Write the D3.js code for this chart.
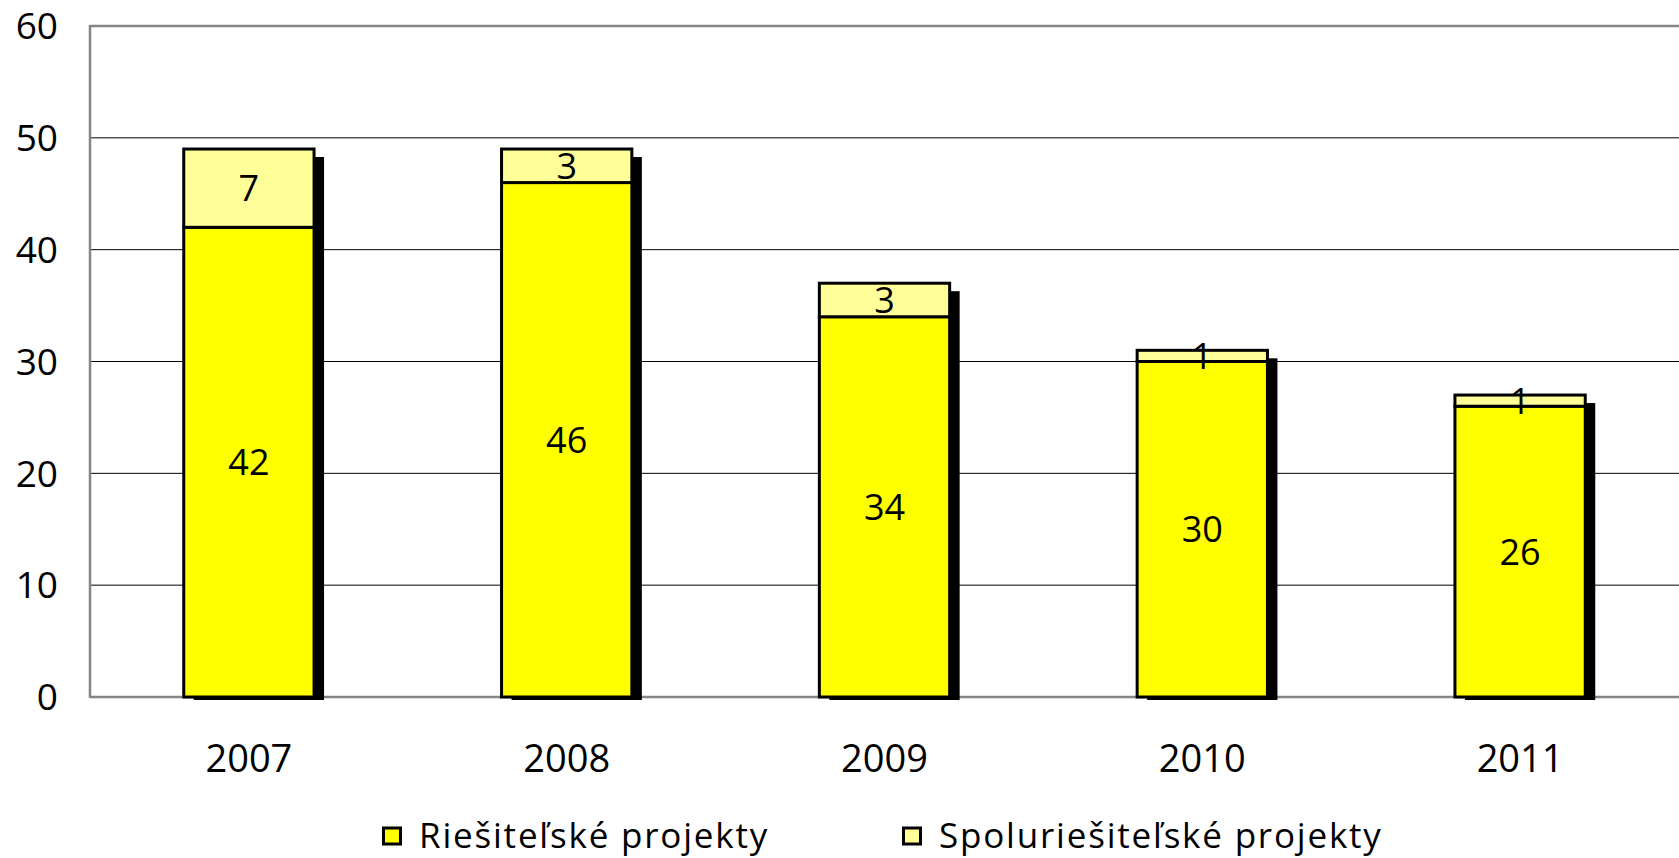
<!DOCTYPE html>
<html>
<head>
<meta charset="utf-8">
<script src="https://cdn.jsdelivr.net/npm/d3@7/dist/d3.min.js"></script>
<style>
  html, body { margin: 0; padding: 0; background: #fff; }
  svg { display: block; font-family: "Open Sans", sans-serif; }
</style>
</head>
<body>
<svg id="chart" width="1679" height="858"></svg>
<script>
const years = ["2007", "2008", "2009", "2010", "2011"];
const riesitelske = [42, 46, 34, 30, 26];
const spoluriesitelske = [7, 3, 3, 1, 1];
const seriesNames = ["Riešiteľské projekty", "Spoluriešiteľské projekty"];
const seriesColors = ["#FFFF00", "#FFFF99"];
const yTicks = [0, 10, 20, 30, 40, 50, 60];

const W = 1679, H = 858;
const margin = { top: 26, right: 0, bottom: 161, left: 90 };
const svg = d3.select("#chart");

const x = d3.scaleBand().domain(years).range([margin.left, W - margin.right]).paddingInner(0.59).paddingOuter(0.295);
const y = d3.scaleLinear().domain([0, 60]).range([H - margin.bottom, margin.top]);

// gridlines
svg.append("g").selectAll("line").data(yTicks.filter(t => t > 0 && t < 60)).join("line")
  .attr("x1", margin.left).attr("x2", W).attr("y1", d => y(d)).attr("y2", d => y(d))
  .attr("stroke", "#000").attr("stroke-width", 1);

// frame: top, left, bottom in gray
svg.append("line").attr("x1", margin.left).attr("x2", W).attr("y1", y(60)).attr("y2", y(60))
  .attr("stroke", "#858585").attr("stroke-width", 2.5);
svg.append("line").attr("x1", margin.left).attr("x2", margin.left).attr("y1", y(60) - 1).attr("y2", y(0) + 1)
  .attr("stroke", "#858585").attr("stroke-width", 2.5);
svg.append("line").attr("x1", margin.left).attr("x2", W).attr("y1", y(0)).attr("y2", y(0))
  .attr("stroke", "#858585").attr("stroke-width", 2.5);

// y labels
svg.append("g").selectAll("text").data(yTicks).join("text")
  .attr("x", 58).attr("y", d => y(d)).attr("dy", "0.36em")
  .attr("text-anchor", "end").attr("font-size", 37).attr("fill", "#000")
  .text(d => d);

// x labels
svg.append("g").selectAll("text").data(years).join("text")
  .attr("x", d => x(d) + x.bandwidth() / 2).attr("y", 772)
  .attr("text-anchor", "middle").attr("font-size", 38).attr("fill", "#000")
  .text(d => d);

const data = years.map((yr, i) => ({ yr, a: riesitelske[i], b: spoluriesitelske[i] }));

// shadows
svg.append("g").selectAll("rect").data(data).join("rect")
  .attr("x", d => x(d.yr) + 10).attr("y", d => y(d.a + d.b) + 8)
  .attr("width", x.bandwidth()).attr("height", d => y(0) + 3 - (y(d.a + d.b) + 8))
  .attr("fill", "#000");

const bars = svg.append("g");
// bottom segments
bars.selectAll("rect.a").data(data).join("rect").attr("class", "a")
  .attr("x", d => x(d.yr)).attr("y", d => y(d.a))
  .attr("width", x.bandwidth()).attr("height", d => y(0) - y(d.a))
  .attr("fill", seriesColors[0]).attr("stroke", "#000").attr("stroke-width", 3);
// top segments
bars.selectAll("rect.b").data(data).join("rect").attr("class", "b")
  .attr("x", d => x(d.yr)).attr("y", d => y(d.a + d.b))
  .attr("width", x.bandwidth()).attr("height", d => y(d.a) - y(d.a + d.b))
  .attr("fill", seriesColors[1]).attr("stroke", "#000").attr("stroke-width", 3);

// data labels
const lbl = svg.append("g").attr("font-size", 36).attr("fill", "#000").attr("text-anchor", "middle");
lbl.selectAll("text.a").data(data).join("text").attr("class", "a")
  .attr("x", d => x(d.yr) + x.bandwidth() / 2).attr("y", d => y(d.a / 2)).attr("dy", "0.36em")
  .text(d => d.a);
lbl.selectAll("text.b").data(data).join("text").attr("class", "b")
  .attr("x", d => x(d.yr) + x.bandwidth() / 2).attr("y", d => y(d.a + d.b / 2)).attr("dy", "0.36em")
  .text(d => d.b);

// legend
const legX = [382, 902];
const leg = svg.append("g");
seriesNames.forEach((name, i) => {
  leg.append("rect").attr("x", legX[i] + 1.5).attr("y", 828).attr("width", 17).attr("height", 16)
    .attr("fill", seriesColors[i]).attr("stroke", "#000").attr("stroke-width", 3);
  leg.append("text").attr("x", legX[i] + 37).attr("y", 848).attr("font-size", 35)
    .attr("letter-spacing", 1.8).attr("fill", "#000")
    .text(name);
});
</script>
</body>
</html>
